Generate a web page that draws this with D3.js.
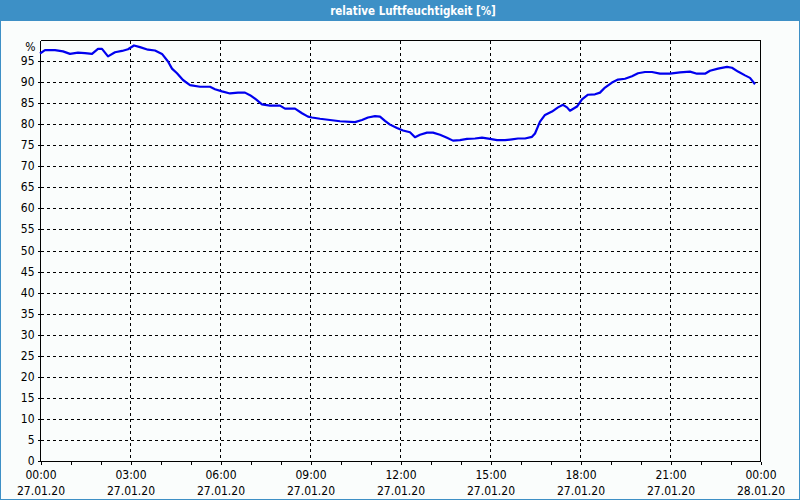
<!DOCTYPE html>
<html>
<head>
<meta charset="utf-8">
<script src="https://cdn.jsdelivr.net/npm/d3@7"></script>
<style>
  html, body { margin: 0; padding: 0; background: #fafdfc; }
  svg { display: block; }
  text { font-family: "DejaVu Sans Condensed", "DejaVu Sans", sans-serif; }
</style>
</head>
<body>
<svg id="chart" width="800" height="500"></svg>
<script>
// ---- data ----
const titleText = "relative Luftfeuchtigkeit [%]";
// minutes since 27.01.20 00:00
const minutes = [0,10,30,46,60,76,90,104,116,124,136,150,164,176,188,200,216,230,244,256,264,274,286,300,320,340,350,364,380,396,410,420,432,444,460,480,490,510,524,536,544,560,580,600,630,644,656,670,680,690,700,714,726,740,750,760,774,786,800,814,826,840,854,870,884,900,914,930,944,956,970,984,990,1000,1010,1024,1036,1046,1054,1060,1074,1084,1096,1110,1120,1130,1144,1156,1170,1184,1196,1210,1224,1240,1260,1280,1300,1314,1330,1340,1356,1374,1384,1396,1410,1420,1430];
const humidity = [96.8,97.6,97.6,97.3,96.7,97.0,96.9,96.7,97.9,97.9,96.1,97.1,97.4,97.8,98.7,98.3,97.7,97.5,96.7,94.9,93.2,92.1,90.5,89.3,88.9,88.9,88.3,87.8,87.3,87.5,87.5,86.9,85.9,84.7,84.4,84.4,83.7,83.7,82.6,81.8,81.6,81.3,81.0,80.7,80.5,81.0,81.6,81.9,81.8,80.8,79.9,79.1,78.5,78.1,76.9,77.5,78.0,78.0,77.5,76.8,76.1,76.2,76.5,76.6,76.8,76.5,76.2,76.2,76.4,76.6,76.6,77.0,77.8,80.6,82.2,83.0,84.0,84.6,84.0,83.2,84.2,85.9,87.0,87.1,87.5,88.7,89.9,90.6,90.8,91.4,92.1,92.4,92.4,92.0,92.0,92.3,92.5,92.0,92.0,92.7,93.2,93.6,93.4,92.5,91.6,91.0,89.5];
const xTickMinutes = [0,180,360,540,720,900,1080,1260,1440];
const xTickTimes = ["00:00","03:00","06:00","09:00","12:00","15:00","18:00","21:00","00:00"];
const xTickDates = ["27.01.20","27.01.20","27.01.20","27.01.20","27.01.20","27.01.20","27.01.20","27.01.20","28.01.20"];
const xMinorMinutes = d3.range(0, 1441, 60);
const yTicks = d3.range(0, 100, 5);
const yUnitLabel = "%";

// ---- layout ----
const W = 800, H = 500;
const L = 40, R = 760, T = 40, B = 461;
const FONT = '"DejaVu Sans Condensed", "DejaVu Sans", sans-serif';
const svg = d3.select("#chart");

svg.append("rect").attr("x",0).attr("y",0).attr("width",W).attr("height",H).attr("fill","#fafdfc");
// title bar
svg.append("rect").attr("x",0).attr("y",0).attr("width",W).attr("height",21).attr("fill","#3d90c6");
// frame
svg.append("rect").attr("x",0.5).attr("y",20.5).attr("width",W-1).attr("height",H-21)
  .attr("fill","none").attr("stroke","#3d90c6").attr("stroke-width",1);
svg.append("text").attr("x",413).attr("y",14.5).attr("text-anchor","middle")
  .attr("fill","#ffffff").attr("font-weight","bold").attr("font-size","11.5px").text(titleText);

const x = d3.scaleLinear().domain([0,1440]).range([L,R]);
const y = d3.scaleLinear().domain([0,100]).range([B,T]);

const g = svg.append("g").attr("transform","translate(0.5,0.5)");

// gridlines
g.append("g").selectAll("line").data(yTicks.filter(d => d > 0)).join("line")
  .attr("x1",L).attr("x2",R).attr("y1",d=>Math.round(y(d))).attr("y2",d=>Math.round(y(d)))
  .attr("stroke","#000").attr("stroke-dasharray","3,3").attr("shape-rendering","crispEdges");
g.append("g").selectAll("line").data(xTickMinutes.slice(1,-1)).join("line")
  .attr("x1",d=>Math.round(x(d))).attr("x2",d=>Math.round(x(d))).attr("y1",T).attr("y2",B)
  .attr("stroke","#000").attr("stroke-dasharray","3,3").attr("shape-rendering","crispEdges");

// frame of plot (top, right)
g.append("path").attr("d",`M${L},${T}H${R}V${B}`).attr("fill","none").attr("stroke","#000").attr("shape-rendering","crispEdges");

// y axis
const yAxis = d3.axisLeft(y).tickValues(yTicks).tickSize(3).tickPadding(3).tickFormat(d3.format("d"));
const ya = g.append("g").attr("transform",`translate(${L},0)`).call(yAxis);
ya.select(".domain").attr("d",`M0,${T}V${B}`).attr("stroke","#000");
ya.selectAll(".tick").attr("transform", d => `translate(0,${Math.round(y(d))})`);
ya.selectAll("text").attr("font-size","12px").attr("fill","#000").attr("font-family",FONT);
ya.attr("shape-rendering","crispEdges");
g.append("text").attr("x",L-5).attr("y",Math.round(y(100))+10).attr("text-anchor","end")
  .attr("font-size","12px").attr("fill","#000").text(yUnitLabel);

// x axis: minor ticks
const xMinor = d3.axisBottom(x).tickValues(xMinorMinutes).tickSize(3).tickFormat("");
const xm = g.append("g").attr("transform",`translate(0,${B})`).call(xMinor);
xm.select(".domain").attr("d",`M${L},0H${R}`).attr("stroke","#000");
xm.attr("shape-rendering","crispEdges");

// x axis: major labels (two lines)
const xMajor = d3.axisBottom(x).tickValues(xTickMinutes).tickSize(3).tickPadding(5).tickFormat(()=>"");
const xa = g.append("g").attr("transform",`translate(0,${B})`).call(xMajor);
xa.select(".domain").remove();
xa.attr("shape-rendering","crispEdges");
xa.selectAll(".tick text").each(function(d,i){
  const t = d3.select(this).attr("font-size","12px").attr("fill","#000").attr("y",8).attr("dy",0)
    .attr("font-family",FONT);
  t.append("tspan").attr("x",0).attr("dy","9").text(xTickTimes[i]);
  t.append("tspan").attr("x",0).attr("dy","16").text(xTickDates[i]);
});

// data line
const line = d3.line().x((d,i)=>x(minutes[i])).y(d=>y(d));
svg.append("path").datum(humidity).attr("d",line)
  .attr("fill","none").attr("stroke","#0000ee").attr("stroke-width",2.2)
  .attr("stroke-linejoin","round");
</script>
</body>
</html>
